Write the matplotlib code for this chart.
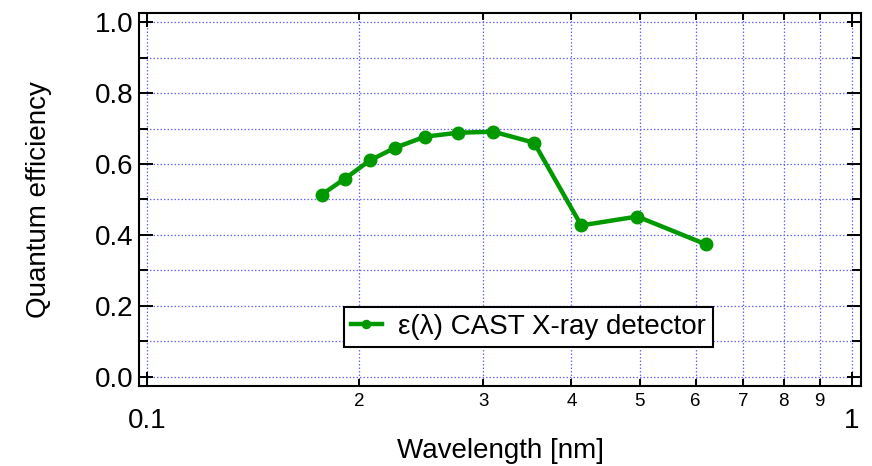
import numpy as np
import matplotlib.pyplot as plt
from matplotlib.ticker import FixedLocator, FixedFormatter, NullFormatter

plt.rcParams['font.family'] = ['Liberation Sans', 'DejaVu Sans']

# wavelength [nm] and quantum efficiency
wavelength = [0.177, 0.191, 0.207, 0.225, 0.248, 0.276, 0.310, 0.354, 0.413, 0.496, 0.620]
efficiency = [0.514, 0.559, 0.610, 0.646, 0.677, 0.688, 0.691, 0.660, 0.427, 0.452, 0.374]

major_x = [0.1, 1.0]
major_x_labels = ['0.1', '1']
minor_x = [0.2, 0.3, 0.4, 0.5, 0.6, 0.7, 0.8, 0.9]
minor_x_labels = ['2', '3', '4', '5', '6', '7', '8', '9']
major_y = [0.0, 0.2, 0.4, 0.6, 0.8, 1.0]
major_y_labels = ['0.0', '0.2', '0.4', '0.6', '0.8', '1.0']
minor_y = [0.1, 0.3, 0.5, 0.7, 0.9]

green = '#009900'

fig = plt.figure(figsize=(8.72, 4.66), dpi=100)
ax = fig.add_axes([0.1594, 0.1717, 0.828, 0.8004])

ax.set_xscale('log')
ax.set_xlim(0.09742, 1.0298)
ax.set_ylim(-0.0254, 1.0254)

# grid first so the data sits on top
for gx in major_x + minor_x:
    ax.axvline(gx, color='#6666ff', lw=0.9, ls=(0, (1.2, 1.6)), zorder=0)
for gy in major_y + minor_y:
    ax.axhline(gy, color='#6666ff', lw=0.9, ls=(0, (1.2, 1.6)), zorder=0)

ax.plot(wavelength, efficiency, color=green, lw=3.2, marker='o', ms=9,
        label='ε(λ) CAST X-ray detector', zorder=3)

ax.xaxis.set_major_locator(FixedLocator(major_x))
ax.xaxis.set_major_formatter(FixedFormatter(major_x_labels))
ax.xaxis.set_minor_locator(FixedLocator(minor_x))
ax.xaxis.set_minor_formatter(FixedFormatter(minor_x_labels))
ax.yaxis.set_major_locator(FixedLocator(major_y))
ax.yaxis.set_major_formatter(FixedFormatter(major_y_labels))
ax.yaxis.set_minor_locator(FixedLocator(minor_y))
ax.yaxis.set_minor_formatter(NullFormatter())

ax.tick_params(which='both', direction='in', top=True, right=True, width=1.4, color='black')
ax.tick_params(axis='y', which='major', length=10, labelsize=20, pad=4)
ax.tick_params(axis='y', which='minor', length=6.5)
ax.tick_params(axis='x', which='major', length=10, labelsize=20, pad=16)
ax.tick_params(axis='x', which='minor', length=5, labelsize=13.5, pad=5)

for s in ax.spines.values():
    s.set_linewidth(1.5)

ax.set_ylabel('Quantum efficiency', fontsize=20, labelpad=31)
ax.set_xlabel('Wavelength [nm]', fontsize=20, labelpad=3)

leg = ax.legend(loc='center', bbox_to_anchor=(0.5395, 0.158), fontsize=20,
                frameon=True, fancybox=False, handlelength=1.1, markerscale=0.65,
                borderpad=0.25, handletextpad=0.6, borderaxespad=0)
leg.get_frame().set_edgecolor('black')
leg.get_frame().set_linewidth(1.5)
leg.get_frame().set_alpha(1)

fig.savefig('out.png', dpi=100)
